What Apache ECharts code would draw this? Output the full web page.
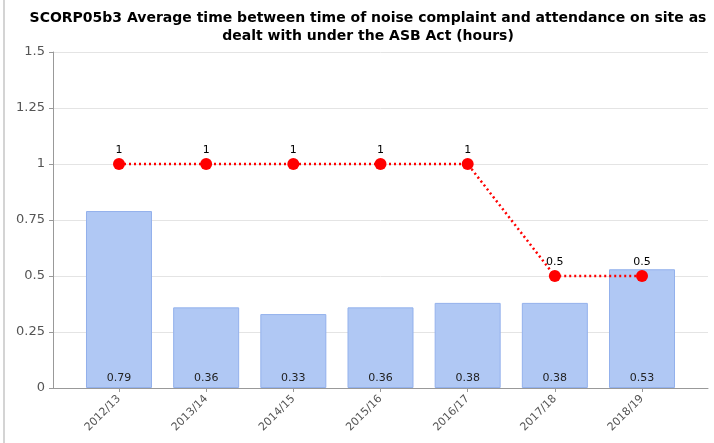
<!DOCTYPE html>
<html>
<head>
<meta charset="utf-8">
<script src="https://cdn.jsdelivr.net/npm/echarts@6/dist/echarts.min.js"></script>
<style>
  html, body { margin: 0; padding: 0; background: #fff; }
  #chart { width: 714px; height: 443px; }
</style>
</head>
<body>
<div id="chart"></div>
<script>
  const categories = ['2012/13', '2013/14', '2014/15', '2015/16', '2016/17', '2017/18', '2018/19'];
  const averageHours = [0.79, 0.36, 0.33, 0.36, 0.38, 0.38, 0.53];
  const targetHours = [1, 1, 1, 1, 1, 0.5, 0.5];

  const idx = categories.map((c, i) => i);
  const labelFont = 'DejaVu Sans, Verdana, sans-serif';

  const chart = echarts.init(document.getElementById('chart'));

  const option = {
    animation: false,
    title: {
      text: 'SCORP05b3 Average time between time of noise complaint and attendance on site as\ndealt with under the ASB Act (hours)',
      left: 363,
      textAlign: 'center',
      top: 4,
      textStyle: {
        fontFamily: labelFont,
        fontWeight: 'bold',
        fontSize: 14,
        lineHeight: 18,
        color: '#000',
      },
    },
    graphic: [
      {
        type: 'rect',
        shape: { x: 3, y: 0, width: 2, height: 443 },
        style: { fill: '#d4d4d4' },
      },
    ],
    grid: {
      left: 53,
      right: 6,
      top: 52,
      bottom: 55,
    },
    xAxis: {
      type: 'value',
      min: -0.757,
      max: 6.757,
      splitLine: { show: false },
      axisLine: { show: true, onZero: false, lineStyle: { color: '#999', width: 1 } },
      axisTick: {
        show: true,
        customValues: idx,
        length: 4,
        lineStyle: { color: '#999' },
      },
      axisLabel: {
        customValues: idx,
        formatter: (v) => categories[Math.round(v)] || '',
        rotate: 45,
        color: '#555',
        fontFamily: labelFont,
        fontSize: 11,
        margin: 9,
      },
    },
    yAxis: {
      type: 'value',
      min: 0,
      max: 1.5,
      interval: 0.25,
      axisLine: { show: true, onZero: false, lineStyle: { color: '#999' } },
      axisTick: { show: true, length: 4, lineStyle: { color: '#999' } },
      axisLabel: {
        color: '#555',
        fontFamily: labelFont,
        fontSize: 13,
        margin: 8,
        formatter: (v) => String(parseFloat(v.toFixed(2))),
      },
      splitLine: { lineStyle: { color: '#e4e4e4' } },
    },
    series: [
      {
        type: 'bar',
        data: averageHours.map((v, i) => [i, v]),
        barWidth: 66,
        itemStyle: {
          color: '#b0c8f4',
          borderColor: '#93b1ec',
          borderWidth: 1,
        },
        label: {
          show: true,
          position: 'insideBottom',
          distance: 4,
          color: '#222',
          fontFamily: labelFont,
          fontSize: 11,
          formatter: (p) => p.value[1].toFixed(2),
        },
      },
      {
        type: 'line',
        data: targetHours.map((v, i) => [i, v]),
        symbol: 'circle',
        symbolSize: 12,
        itemStyle: { color: '#ff0000' },
        lineStyle: { color: '#ff0000', width: 2.5, type: [2, 3] },
        label: {
          show: true,
          position: 'top',
          distance: 2,
          color: '#000',
          fontFamily: labelFont,
          fontSize: 11,
          formatter: (p) => String(p.value[1]),
        },
        z: 5,
      },
    ],
  };

  chart.setOption(option);
</script>
</body>
</html>
